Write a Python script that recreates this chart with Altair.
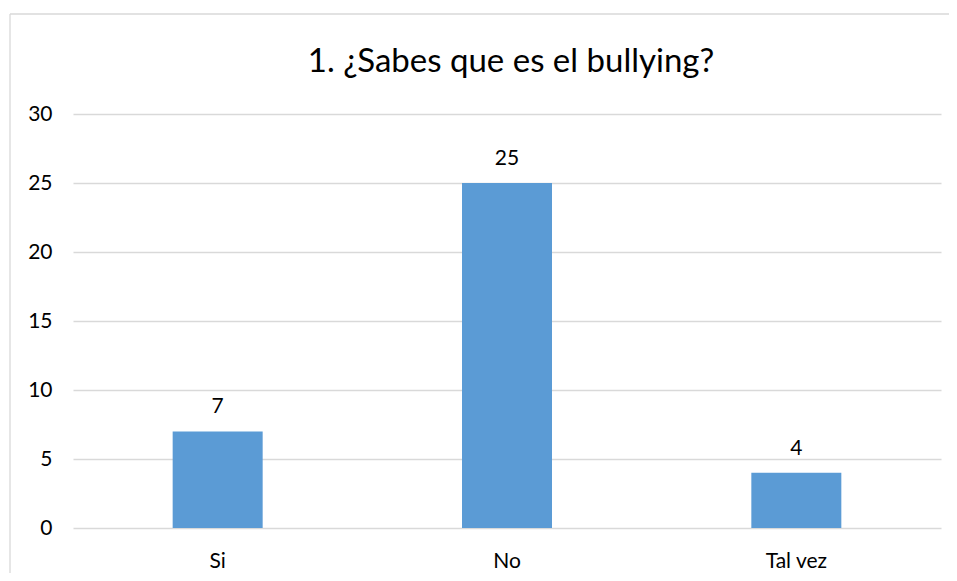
import altair as alt
import pandas as pd

categories = ["Si", "No", "Tal vez"]
values = [7, 25, 4]
y_ticks = [0, 5, 10, 15, 20, 25, 30]
title_text = "1. ¿Sabes que es el bullying?"

df = pd.DataFrame({"cat": categories, "val": values})
title_df = pd.DataFrame({"t": [title_text]})

FONT = "Lato"
W, H = 868, 414

x_enc = alt.X("cat:N", sort=categories, title=None,
              scale=alt.Scale(paddingInner=0, paddingOuter=0),
              axis=alt.Axis(labelAngle=0, labelFontSize=21, labelColor="#000000",
                            labelFont=FONT, ticks=False, domain=False, labelPadding=39,
                            labelBaseline="alphabetic", grid=False))
y_enc = alt.Y("val:Q", title=None,
              scale=alt.Scale(domain=[0, 30], nice=False),
              axis=alt.Axis(values=y_ticks, labelFontSize=21, labelColor="#000000",
                            labelFont=FONT, ticks=False, domain=False, labelPadding=21,
                            grid=True, gridColor="#d9d9d9", gridWidth=1.3))

top_edge = alt.Chart(title_df).mark_rule(stroke="#d9d9d9", strokeWidth=1.3).encode(
    x=alt.value(10 - 73), x2=alt.value(1000 - 73), y=alt.value(14 - 114))
left_edge = alt.Chart(title_df).mark_rule(stroke="#d9d9d9", strokeWidth=1.3).encode(
    x=alt.value(10 - 73), y=alt.value(14 - 114), y2=alt.value(600))

title = alt.Chart(title_df).mark_text(fontSize=33, font=FONT, color="#000000",
                                      baseline="alphabetic", align="center").encode(
    x=alt.value(W / 2 + 4), y=alt.value(-42), text="t:N")

bars = alt.Chart(df).mark_bar(size=90, color="#5b9bd5").encode(x=x_enc, y=y_enc)

labels = alt.Chart(df).mark_text(baseline="alphabetic", dy=-18, fontSize=21, font=FONT,
                                 color="#000000").encode(
    x=alt.X("cat:N", sort=categories), y="val:Q", text="val:Q")

chart = alt.layer(top_edge, left_edge, title, bars, labels).properties(
    width=W, height=H,
    padding={"left": 65, "top": 106, "right": 8, "bottom": 45},
    autosize=alt.AutoSizeParams(type="none"),
).configure(background="white").configure_view(stroke=None)

chart.save("out.html", embed_options={"renderer": "svg", "actions": False})
